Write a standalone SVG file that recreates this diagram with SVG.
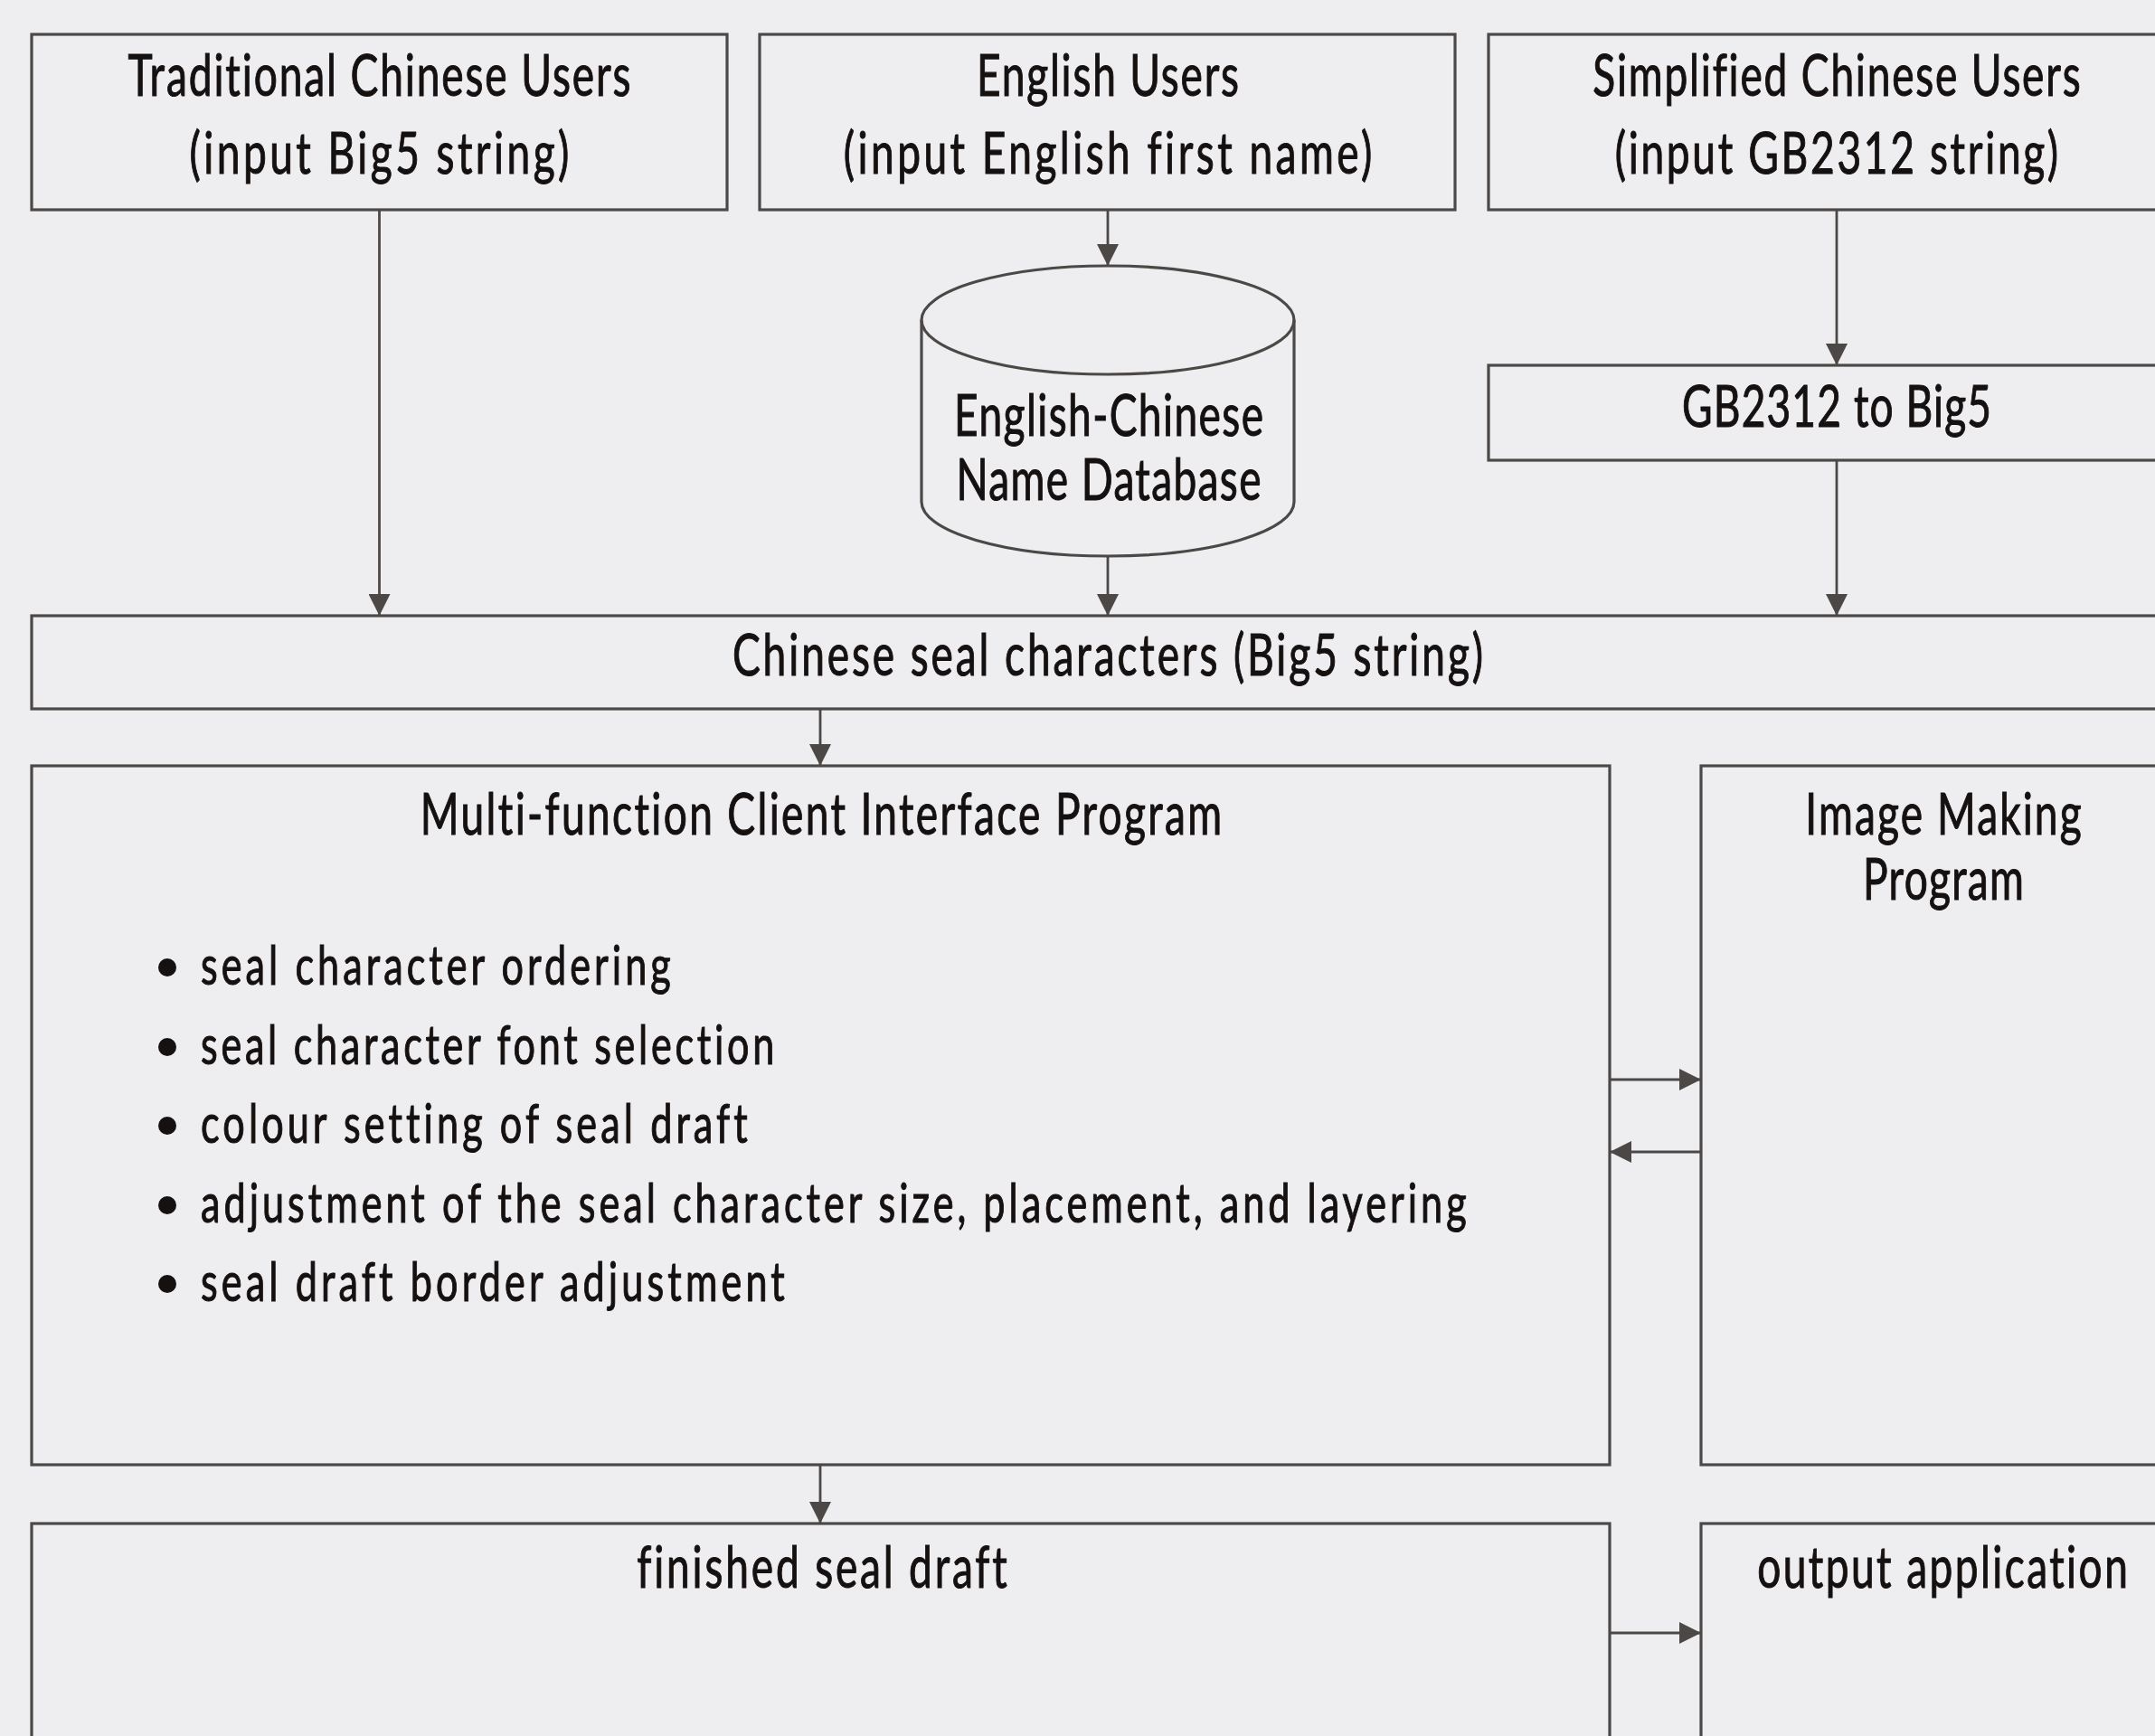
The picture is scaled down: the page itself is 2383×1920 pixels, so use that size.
<svg xmlns="http://www.w3.org/2000/svg" width="2383" height="1920" viewBox="0 0 2383 1920">
  <style>
    .box { fill: none; stroke: #4b4846; stroke-width: 3.2; }
    .wire { fill: none; stroke: #4b4846; stroke-width: 2.8; marker-end: url(#head); }
    .lbl, .item { font-family: Lato, "Liberation Sans", sans-serif; fill: #161111; stroke: #161111; stroke-width: 1.1; font-variant-ligatures: none; }
    .lbl { font-size: 64px; text-anchor: middle; }
    .item { font-size: 60px; text-anchor: start; }
    .dot { fill: #161111; }
  </style>
  <defs>
    <marker id="head" markerUnits="userSpaceOnUse" markerWidth="24" markerHeight="24" refX="24" refY="12" orient="auto">
      <path d="M0,0 L24,12 L0,24 z" fill="#4b4846"/>
    </marker>
  </defs>

  <rect width="2383" height="1920" fill="#eeeef0"/>

  <!-- connectors -->
  <g id="connectors">
    <path class="wire" d="M419.5,232 V681"/>
    <path class="wire" d="M1225,232 V294"/>
    <path class="wire" d="M1225,615 V681"/>
    <path class="wire" d="M2031,232 V404"/>
    <path class="wire" d="M2031,509 V681"/>
    <path class="wire" d="M907,784 V847"/>
    <path class="wire" d="M1780,1194 H1881"/>
    <path class="wire" d="M1881,1274 H1780"/>
    <path class="wire" d="M907,1620 V1685"/>
    <path class="wire" d="M1780,1806 H1881"/>
  </g>

  <!-- user inputs -->
  <g id="traditional-users">
    <rect class="box" x="35" y="38" width="769" height="194"/>
    <text class="lbl" transform="translate(419.5,106) scale(0.72,1)" textLength="772" lengthAdjust="spacing">Traditional Chinese Users</text>
    <text class="lbl" transform="translate(419.5,192) scale(0.72,1)" textLength="583" lengthAdjust="spacing">(input Big5 string)</text>
  </g>

  <g id="english-users">
    <rect class="box" x="840" y="38" width="769" height="194"/>
    <text class="lbl" transform="translate(1225,106) scale(0.72,1)" textLength="403" lengthAdjust="spacing">English Users</text>
    <text class="lbl" transform="translate(1225,192) scale(0.72,1)" textLength="812" lengthAdjust="spacing">(input English first name)</text>
  </g>

  <g id="simplified-users">
    <rect class="box" x="1646" y="38" width="780" height="194"/>
    <text class="lbl" transform="translate(2031,106) scale(0.72,1)" textLength="749" lengthAdjust="spacing">Simplified Chinese Users</text>
    <text class="lbl" transform="translate(2031,192) scale(0.72,1)" textLength="681" lengthAdjust="spacing">(input GB2312 string)</text>
  </g>

  <g id="gb-to-big5">
    <rect class="box" x="1646" y="404" width="780" height="105"/>
    <text class="lbl" transform="translate(2031,472) scale(0.72,1)" textLength="475" lengthAdjust="spacing">GB2312 to Big5</text>
  </g>

  <!-- name database cylinder -->
  <g id="name-database">
    <path class="box" d="M1019,354 V555 A206,60 0 0 0 1431,555 V354"/>
    <ellipse class="box" cx="1225" cy="354" rx="206" ry="60"/>
    <text class="lbl" transform="translate(1226,482) scale(0.72,1)" textLength="475" lengthAdjust="spacing">English-Chinese</text>
    <text class="lbl" transform="translate(1226,553) scale(0.72,1)" textLength="468" lengthAdjust="spacing">Name Database</text>
  </g>

  <g id="seal-characters">
    <rect class="box" x="35" y="681" width="2391" height="103"/>
    <text class="lbl" transform="translate(1225,747) scale(0.72,1)" textLength="1153" lengthAdjust="spacing">Chinese seal characters (Big5 string)</text>
  </g>

  <!-- client program with its feature list -->
  <g id="client-program">
    <rect class="box" x="35" y="847" width="1745" height="773"/>
    <text class="lbl" transform="translate(908,923) scale(0.72,1)" textLength="1231" lengthAdjust="spacing">Multi-function Client Interface Program</text>
    <circle class="dot" cx="185" cy="1070" r="10"/>
    <circle class="dot" cx="185" cy="1158" r="10"/>
    <circle class="dot" cx="185" cy="1245" r="10"/>
    <circle class="dot" cx="185" cy="1333" r="10"/>
    <circle class="dot" cx="185" cy="1420" r="10"/>
    <text class="item" transform="translate(222,1089) scale(0.72,1)" textLength="722" lengthAdjust="spacing">seal character ordering</text>
    <text class="item" transform="translate(222,1177) scale(0.72,1)" textLength="881" lengthAdjust="spacing">seal character font selection</text>
    <text class="item" transform="translate(222,1264) scale(0.72,1)" textLength="840" lengthAdjust="spacing">colour setting of seal draft</text>
    <text class="item" transform="translate(222,1352) scale(0.72,1)" textLength="1944" lengthAdjust="spacing">adjustment of the seal character size, placement, and layering</text>
    <text class="item" transform="translate(222,1439) scale(0.72,1)" textLength="897" lengthAdjust="spacing">seal draft border adjustment</text>
  </g>

  <g id="image-program">
    <rect class="box" x="1881" y="847" width="545" height="773"/>
    <text class="lbl" transform="translate(2149,923) scale(0.72,1)" textLength="424" lengthAdjust="spacing">Image Making</text>
    <text class="lbl" transform="translate(2149,995) scale(0.72,1)" textLength="247" lengthAdjust="spacing">Program</text>
  </g>

  <g id="finished-draft">
    <rect class="box" x="35" y="1685" width="1745" height="260"/>
    <text class="lbl" transform="translate(909,1756) scale(0.72,1)" textLength="569" lengthAdjust="spacing">finished seal draft</text>
  </g>

  <g id="output-application">
    <rect class="box" x="1881" y="1685" width="545" height="260"/>
    <text class="lbl" transform="translate(2148,1756) scale(0.72,1)" textLength="569" lengthAdjust="spacing">output application</text>
  </g>
</svg>
